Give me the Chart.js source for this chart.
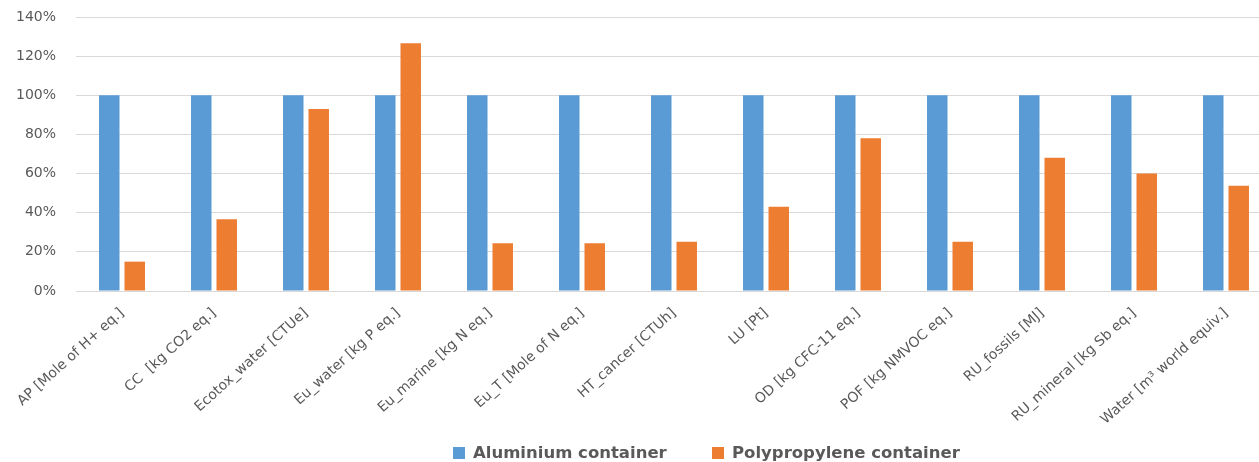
<!DOCTYPE html>
<html>
<head>
<meta charset="utf-8">
<script src="https://cdn.jsdelivr.net/npm/chart.js@4"></script>
<style>
  html, body { margin: 0; padding: 0; background: #ffffff; overflow: hidden; }
  #wrap { position: relative; width: 1259px; height: 462px; overflow: hidden; }
  #c { position: absolute; left: 0; top: 0; }
  .leg { position: absolute; top: 444px; height: 18px; display: flex; align-items: center;
         font-family: "DejaVu Sans", sans-serif; font-weight: bold; font-size: 16.5px; color: #595959; white-space: nowrap; line-height: 18px; }
  .leg .box { width: 12px; height: 12px; margin-right: 8px; }
</style>
</head>
<body>
<div id="wrap">
  <canvas id="c" width="1272" height="462"></canvas>
  <div class="leg" style="left:453px"><span class="box" style="background:#5B9BD5"></span><span id="l0"></span></div>
  <div class="leg" style="left:712px"><span class="box" style="background:#ED7D31"></span><span id="l1"></span></div>
</div>
<script>
const categories = [
  "AP [Mole of H+ eq.]",
  "CC  [kg CO2 eq.]",
  "Ecotox_water [CTUe]",
  "Eu_water [kg P eq.]",
  "Eu_marine [kg N eq.]",
  "Eu_T [Mole of N eq.]",
  "HT_cancer [CTUh]",
  "LU [Pt]",
  "OD [kg CFC-11 eq.]",
  "POF [kg NMVOC eq.]",
  "RU_fossils [MJ]",
  "RU_mineral [kg Sb eq.]",
  "Water [m\u00B3 world equiv.]"
];
const seriesNames = ["Aluminium container", "Polypropylene container"];
const aluminium = [100, 100, 100, 100, 100, 100, 100, 100, 100, 100, 100, 100, 100];
const polypropylene = [15, 36.6, 93, 126.6, 24.4, 24.4, 25.2, 43.1, 78, 25.2, 68.1, 60.1, 53.8];
const yTickValues = [0, 20, 40, 60, 80, 100, 120, 140];

document.getElementById('l0').textContent = seriesNames[0];
document.getElementById('l1').textContent = seriesNames[1];

const grey = '#595959';
new Chart(document.getElementById('c'), {
  type: 'bar',
  data: {
    labels: categories,
    datasets: [
      { label: seriesNames[0], data: aluminium, backgroundColor: '#5B9BD5',
        categoryPercentage: 0.554, barPercentage: 0.804 },
      { label: seriesNames[1], data: polypropylene, backgroundColor: '#ED7D31',
        categoryPercentage: 0.554, barPercentage: 0.804 }
    ]
  },
  options: {
    responsive: false,
    animation: false,
    layout: { padding: { top: 17, left: 0, right: 0, bottom: 0 } },
    plugins: { legend: { display: false }, tooltip: { enabled: false } },
    scales: {
      x: {
        grid: { display: false, drawTicks: false },
        border: { display: true, color: '#d9d9d9', width: 1 },
        ticks: {
          color: grey, autoSkip: false, minRotation: 42, maxRotation: 42, padding: 14,
          font: { family: 'DejaVu Sans', size: 14 }
        },
        afterFit: (s) => { s.height = 171; }
      },
      y: {
        min: 0, max: 140,
        afterBuildTicks: (s) => { s.ticks = yTickValues.map(v => ({ value: v })); },
        grid: { color: '#d9d9d9', lineWidth: 1, drawTicks: false },
        border: { display: false },
        ticks: {
          color: grey, padding: 20,
          font: { family: 'DejaVu Sans', size: 14 },
          callback: (v) => v + '%'
        },
        afterFit: (s) => { s.width = 76; s.paddingTop = 0; s.paddingBottom = 0; }
      }
    }
  }
});
</script>
</body>
</html>
